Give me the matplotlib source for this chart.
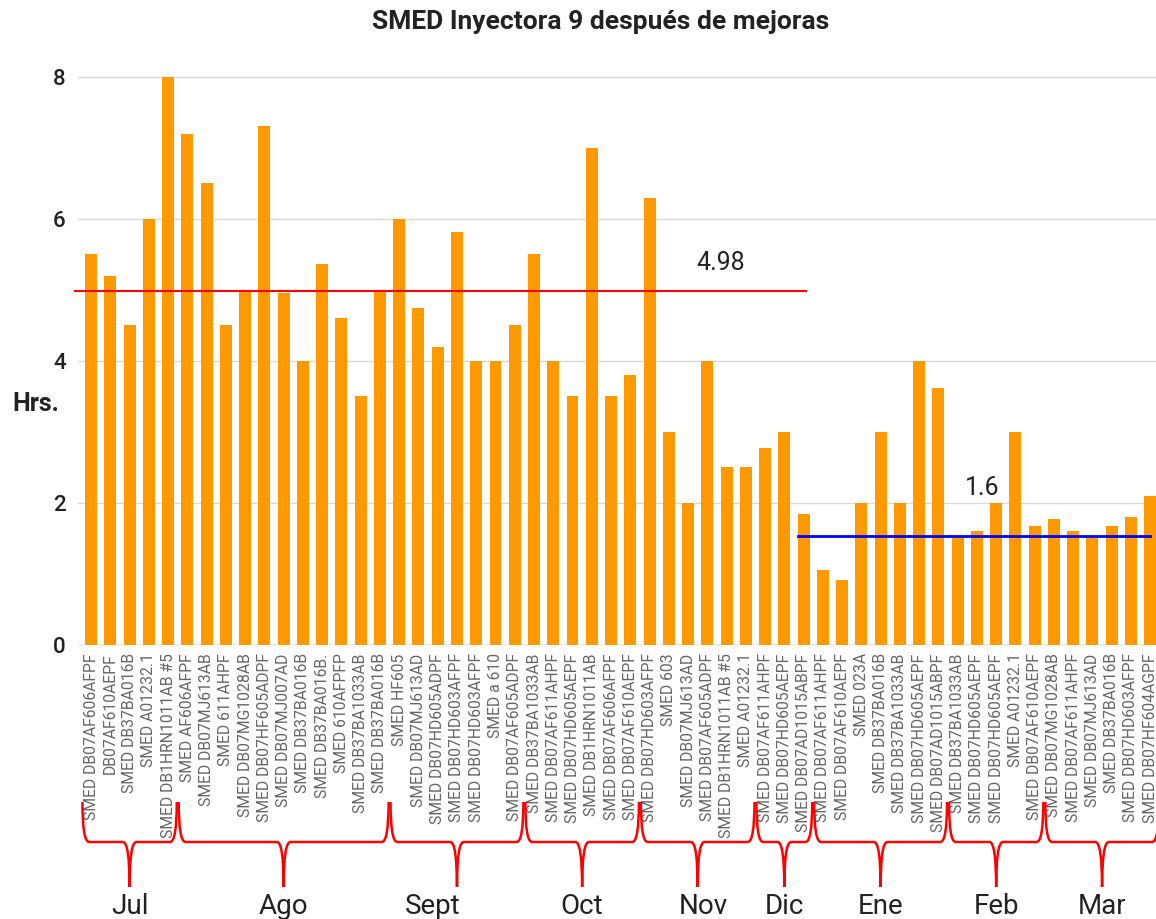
import matplotlib
matplotlib.use("Agg")
import matplotlib.pyplot as plt
from matplotlib.path import Path
from matplotlib.patches import PathPatch
from matplotlib.transforms import blended_transform_factory
import numpy as np

plt.rcParams['font.family'] = ['Roboto', 'DejaVu Sans']

labels = [
    "SMED DB07AF606AFPF", "DB07AF610AEPF", "SMED DB37BA016B", "SMED A01232.1",
    "SMED DB1HRN1011AB #5", "SMED AF606AFPF", "SMED DB07MJ613AB", "SMED 611AHPF",
    "SMED DB07MG1028AB", "SMED DB07HF605ADPF", "SMED DB07MJ007AD", "SMED DB37BA016B",
    "SMED DB37BA016B.", "SMED 610AFPFP", "SMED DB37BA1033AB", "SMED DB37BA016B",
    "SMED HF605", "SMED DB07MJ613AD", "SMED DB07HD605ADPF", "SMED DB07HD603AFPF",
    "SMED DB07HD603AFPF", "SMED a 610", "SMED DB07AF605ADPF", "SMED DB37BA1033AB",
    "SMED DB07AF611AHPF", "SMED DB07HD605AEPF", "SMED DB1HRN1011AB", "SMED DB07AF606AFPF",
    "SMED DB07AF610AEPF", "SMED DB07HD603AFPF", "SMED 603", "SMED DB07MJ613AD",
    "SMED DB07AF605ADPF", "SMED DB1HRN1011AB #5", "SMED A01232.1", "SMED DB07AF611AHPF",
    "SMED DB07HD605AEPF", "SMED DB07AD1015ABPF", "SMED DB07AF611AHPF", "SMED DB07AF610AEPF",
    "SMED 023A", "SMED DB37BA016B", "SMED DB37BA1033AB", "SMED DB07HD605AEPF",
    "SMED DB07AD1015ABPF", "SMED DB37BA1033AB", "SMED DB07HD605AEPF", "SMED DB07HD605AEPF",
    "SMED A01232.1", "SMED DB07AF610AEPF", "SMED DB07MG1028AB", "SMED DB07AF611AHPF",
    "SMED DB07MJ613AD", "SMED DB37BA016B", "SMED DB07HD603AFPF", "SMED DB07HF604AGPF",
]
hours = [
    5.5, 5.2, 4.5, 6.0, 8.0, 7.2, 6.5, 4.5, 5.0, 7.3,
    4.95, 4.0, 5.37, 4.6, 3.5, 5.0, 6.0, 4.75, 4.2, 5.82,
    4.0, 4.0, 4.5, 5.5, 4.0, 3.5, 7.0, 3.5, 3.8, 6.3,
    3.0, 2.0, 4.0, 2.5, 2.5, 2.78, 3.0, 1.85, 1.05, 0.92,
    2.0, 3.0, 2.0, 4.0, 3.62, 1.5, 1.6, 2.0, 3.0, 1.68,
    1.77, 1.6, 1.5, 1.68, 1.8, 2.1,
]
months = ["Jul", "Ago", "Sept", "Oct", "Nov", "Dic", "Ene", "Feb", "Mar"]
month_counts = [5, 11, 7, 6, 6, 3, 7, 5, 6]
ref_values = [4.98, 1.53]
ref_texts = ["4.98", "1.6"]

# small horizontal nudges of the month names relative to the brace tips (in bar units)
label_nudge = {"Sept": -1.25, "Nov": 0.3}

fig = plt.figure(figsize=(11.56, 9.19), dpi=100)
ax = fig.add_axes([78/1156, (919-645)/919, 1 - 78/1156, (645-59)/919])

x = np.arange(len(hours))
ax.bar(x, hours, width=0.62, color="#FF9900", zorder=3)
ax.set_xlim(-0.68, 55.3)
ax.set_ylim(0, 8.25)
ax.set_yticks([0, 2, 4, 6, 8])
ax.yaxis.grid(True, color="#d9d9d9", linewidth=1, zorder=0)
ax.set_axisbelow(True)
for s in ax.spines.values():
    s.set_visible(False)
ax.axhline(0, color="#aaaaaa", linewidth=1, zorder=2)
ax.tick_params(axis='y', length=0, pad=9, labelsize=16, labelcolor="#222222")
ax.set_xticks(x)
ax.set_xticklabels(labels, rotation=90, fontsize=11.3, color="#666666", va="top", ha="center")
ax.tick_params(axis='x', length=0, pad=6)
for t in ax.get_yticklabels():
    t.set_fontweight("medium")

# reference lines
ax.plot([-0.83, 37.1], [ref_values[0]] * 2, color="red", linewidth=1.5, zorder=4, clip_on=False)
ax.text(32.7, ref_values[0] + 0.4, ref_texts[0], fontsize=18, color="#222222", ha="center", va="center", zorder=5)
ax.plot([36.7, 55.0], [ref_values[1]] * 2, color="blue", linewidth=2, zorder=4)
ax.text(46.3, ref_values[1] + 0.68, ref_texts[1], fontsize=18, color="#222222", ha="center", va="center", zorder=5)

# title and y label
fig.text(601/1156, 1 - 22/919, "SMED Inyectora 9 después de mejoras", fontsize=19, fontweight="bold",
         ha="center", va="center", color="#222222")
fig.text(36/1156, 1 - 404/919, "Hrs.", fontsize=18, fontweight="bold", ha="center", va="center", color="#222222")

# month braces
trans = blended_transform_factory(ax.transData, fig.transFigure)
y_top = 1 - 802/919
y_mid = 1 - 842/919
y_tip = 1 - 887/919
start = 0
for m, c in zip(months, month_counts):
    x0 = start - 0.45
    x1 = start + c - 1 + 0.45
    xc = (x0 + x1) / 2
    r = 0.35
    verts = [
        (x0, y_top), (x0, y_mid), (x0 + r, y_mid),
        (xc - r, y_mid), (xc, y_mid), (xc, y_tip),
        (xc, y_mid), (xc + r, y_mid),
        (x1 - r, y_mid), (x1, y_mid), (x1, y_top),
    ]
    codes = [
        Path.MOVETO, Path.CURVE3, Path.CURVE3,
        Path.LINETO, Path.CURVE3, Path.CURVE3,
        Path.CURVE3, Path.CURVE3,
        Path.LINETO, Path.CURVE3, Path.CURVE3,
    ]
    patch = PathPatch(Path(verts, codes), facecolor="none", edgecolor="red", linewidth=1.8,
                      transform=trans, clip_on=False)
    fig.add_artist(patch)
    txt = fig.text(0, 1 - 906/919, m, transform=trans, fontsize=20, color="#222222", ha="center", va="center")
    txt.set_x(xc + label_nudge.get(m, 0))
    start += c

fig.savefig("out.png", dpi=100)
